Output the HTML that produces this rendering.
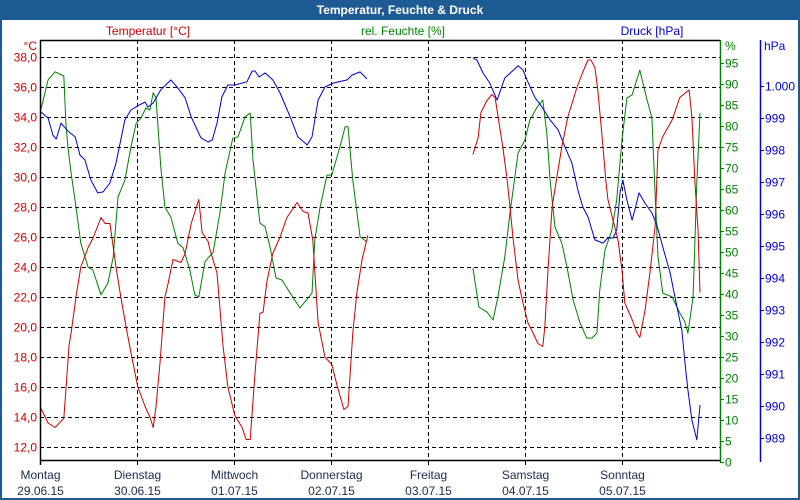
<!DOCTYPE html>
<html><head><meta charset="utf-8"><style>
html,body{margin:0;padding:0;background:#fff}
#wrap{position:relative;width:800px;height:500px;overflow:hidden}
svg{display:block;font-family:"Liberation Sans",sans-serif}
</style></head><body>
<div id="wrap">
<svg id="chart" width="800" height="500" viewBox="0 0 800 500">
  <rect x="0" y="0" width="800" height="500" fill="#fff"/>
  <rect x="0" y="0" width="800" height="20" fill="#1e5b93"/>
  <rect x="1" y="1" width="798" height="498" fill="none" stroke="#1e5b93" stroke-width="2"/>
  <text x="400" y="14" text-anchor="middle" fill="#fff" font-size="12" font-weight="bold">Temperatur, Feuchte &amp; Druck</text>
  <text x="148" y="35" text-anchor="middle" fill="#cc0000" font-size="12">Temperatur [°C]</text>
  <text x="403" y="35" text-anchor="middle" fill="#008000" font-size="12">rel. Feuchte [%]</text>
  <text x="652" y="35" text-anchor="middle" fill="#0000cc" font-size="12">Druck [hPa]</text>
  <text x="37" y="50" text-anchor="end" fill="#cc0000" font-size="12">°C</text>
  <text x="725" y="50" fill="#008000" font-size="12">%</text>
  <text x="764" y="50" fill="#0000cc" font-size="12">hPa</text>
  <g id="grid"></g>
  <g id="series"></g>
  <g id="axes"></g>
</svg>
</div>
<script>
const tempTicks = [38,36,34,32,30,28,26,24,22,20,18,16,14,12];
const humTicks = [95,90,85,80,75,70,65,60,55,50,45,40,35,30,25,20,15,10,5,0];
const pressTicks = [1000,999,998,997,996,995,994,993,992,991,990,989];
const pressTickLabels = ["1.000","999","998","997","996","995","994","993","992","991","990","989"];
const dayNames = ["Montag","Dienstag","Mittwoch","Donnerstag","Freitag","Samstag","Sonntag"];
const dayDates = ["29.06.15","30.06.15","01.07.15","02.07.15","03.07.15","04.07.15","05.07.15"];

const tempHours1 = [0.2,2.0,3.7,5.9,6.4,7.2,7.7,8.9,10.1,11.9,13.1,15.1,16.1,17.3,18.8,20.0,21.3,22.5,24.2,26.0,27.2,28.0,28.7,29.7,30.9,31.7,32.9,34.9,35.9,37.4,39.3,40.1,41.6,42.1,43.8,45.3,46.5,48.2,50.0,51.0,52.0,53.2,54.4,55.2,56.2,57.6,59.4,61.1,63.6,65.1,66.3,67.5,68.8,70.5,72.2,73.5,75.2,76.2,77.4,78.4,79.7,81.1];
const tempValues1 = [14.6,13.6,13.3,13.9,15.8,18.8,19.6,22.0,24.0,25.3,25.9,27.3,26.9,26.9,24.0,22.0,20.0,18.3,16.0,14.7,14.0,13.3,14.7,17.6,22.0,22.9,24.5,24.3,24.9,26.9,28.5,26.3,25.7,25.1,23.6,18.7,16.0,14.1,13.3,12.5,12.5,16.9,20.9,21.0,23.1,24.9,26.0,27.3,28.3,27.7,27.6,25.8,20.3,18.0,17.5,16.1,14.5,14.7,19.6,22.3,24.5,26.1];
const tempHours2 = [107.1,108.4,109.1,110.6,111.8,112.6,113.3,114.5,115.5,116.3,117.0,118.3,119.5,120.7,122.0,123.2,124.4,124.9,125.7,126.7,127.9,129.1,130.6,132.9,134.3,135.6,136.3,137.3,138.0,139.0,140.0,140.5,141.8,143.0,144.0,144.7,146.5,147.7,148.4,149.7,150.9,152.2,152.9,154.1,156.4,158.3,160.1,160.6,161.3,162.0,162.8,163.3];
const tempValues2 = [31.5,32.6,34.3,35.1,35.5,35.3,34.1,32.0,30.0,28.0,26.0,23.1,21.6,20.3,19.6,18.9,18.7,20.0,23.8,28.0,30.0,32.0,34.0,36.0,37.0,37.8,37.8,37.3,35.8,32.9,29.8,28.5,27.1,25.8,23.8,21.6,20.5,19.6,19.3,21.1,23.6,26.7,31.8,32.7,33.8,35.3,35.7,35.8,34.0,29.8,26.5,22.3];

const humHours1 = [0.2,2.0,3.7,5.9,6.4,6.9,7.7,8.9,10.1,11.9,13.1,15.1,16.8,18.1,19.3,21.0,22.5,23.8,25.0,26.2,27.2,28.0,28.7,29.9,30.9,32.4,34.1,35.4,37.1,38.3,39.3,40.8,41.6,42.8,44.5,45.8,47.7,49.0,50.7,52.0,52.7,54.4,55.7,56.9,58.4,59.9,61.9,64.3,67.3,68.0,69.3,71.0,72.2,74.2,75.5,76.2,77.4,79.2,80.9];
const humValues1 = [83.8,91.0,92.9,91.9,80.7,75.0,68.8,60.7,52.1,46.4,45.7,39.8,42.6,48.8,63.1,67.1,75.0,80.7,81.9,84.3,83.8,87.9,86.7,70.2,60.7,58.3,52.1,51.0,45.7,39.8,39.3,47.6,48.6,49.8,59.3,68.8,77.1,77.4,82.1,83.1,71.9,56.9,56.0,51.2,43.8,43.3,40.2,36.7,40.2,52.9,60.7,68.3,68.3,75.0,79.8,79.8,67.1,53.6,52.4];
const humHours2 = [107.1,108.6,110.6,112.1,113.3,115.0,116.3,118.3,120.0,121.2,123.0,124.4,125.4,126.2,127.4,129.1,130.4,131.9,133.6,135.3,136.6,137.8,138.5,139.8,141.5,142.7,144.0,145.2,146.5,148.4,150.2,151.4,152.2,152.9,154.1,156.4,158.3,159.6,160.3,161.6,162.5,163.3];
const humValues2 = [46.2,36.9,35.7,33.8,39.3,48.8,59.3,73.6,76.7,81.4,84.5,86.2,78.3,67.1,56.0,52.1,46.4,38.6,33.1,29.5,29.5,30.7,41.0,50.5,55.2,62.4,76.7,86.7,87.4,93.3,86.2,81.9,64.0,48.8,40.2,39.3,35.5,33.3,30.7,39.3,66.4,83.1];

const pressHours1 = [0.2,2.0,3.2,4.0,5.2,6.9,8.7,9.9,11.1,12.6,14.3,15.6,17.3,18.8,21.0,22.5,24.2,26.0,26.7,28.0,29.9,32.4,34.1,35.9,37.4,39.8,41.6,42.6,43.8,45.0,46.5,48.2,51.2,52.5,53.2,54.2,55.7,57.6,59.4,61.9,63.8,66.1,67.3,68.8,70.5,72.5,76.0,77.2,79.2,80.9];
const pressValues1 = [999.19,999.0,998.47,998.34,998.84,998.59,998.41,997.84,997.69,997.06,996.66,996.69,996.97,997.59,998.94,999.25,999.38,999.5,999.34,999.47,999.88,1000.19,999.94,999.63,999.03,998.38,998.25,998.31,998.84,999.66,1000.03,1000.03,1000.13,1000.47,1000.47,1000.28,1000.41,1000.19,999.78,999.03,998.41,998.16,998.41,999.56,999.97,1000.09,1000.19,1000.34,1000.44,1000.22];
const pressHours2 = [107.1,108.1,109.6,111.3,113.1,115.0,118.3,119.5,120.7,122.5,124.2,126.2,128.2,129.9,131.6,133.1,134.3,135.6,137.3,139.3,140.5,141.8,142.7,143.5,144.2,145.2,146.5,147.2,148.2,149.7,151.4,152.6,154.1,155.9,157.6,158.8,159.6,160.3,161.3,162.5,163.3];
const pressValues2 = [1000.88,1000.81,1000.41,1000.09,999.56,1000.25,1000.63,1000.5,1000.13,999.63,999.34,998.94,998.63,998.09,997.59,996.75,996.22,995.91,995.19,995.09,995.25,995.25,995.5,996.66,997.06,996.44,995.81,996.13,996.66,996.34,996.03,995.66,994.97,994.16,993.09,992.38,991.34,990.5,989.56,988.94,990.03];

const NS = "http://www.w3.org/2000/svg";
const X0 = 40, X1 = 720, Y0 = 40, Y1 = 460, DAYPX = 97;
function xScale(h){ return X0 + h * DAYPX / 24; }
function yTemp(t){ return 57 + (38 - t) * 15; }
function yHum(v){ return 462 - v * 4.2; }
function yPress(p){ return 86 + (1000 - p) * 32; }
function mk(tag, attrs, parent){
  const el = document.createElementNS(NS, tag);
  for (const k in attrs) el.setAttribute(k, attrs[k]);
  parent.appendChild(el);
  return el;
}
const grid = document.getElementById('grid');
const axes = document.getElementById('axes');
const series = document.getElementById('series');

tempTicks.forEach(t => {
  const y = Math.round(yTemp(t)) + 0.5;
  const l = mk('line', {x1:X0, x2:X1, y1:y, y2:y, stroke:'#000', 'stroke-dasharray':'4,3', 'stroke-width':1}, grid);
  
  
  const tx = mk('text', {x:37, y:y+4, 'text-anchor':'end', fill:'#cc0000', 'font-size':12}, axes);
  tx.textContent = t.toFixed(1).replace('.', ',');
  
  
});
for (let d = 0; d < 7; d++) {
  const x = Math.round(xScale(d * 24)) + 0.5;
  if (d > 0) {
    const l = mk('line', {x1:x, x2:x, y1:Y0, y2:Y1, stroke:'#000', 'stroke-dasharray':'4,3', 'stroke-width':1}, grid);
    
    
  }
  const tk = mk('line', {x1:x, x2:x, y1:Y1, y2:Y1+5, stroke:'#000'}, axes);
  
  
  const t1 = mk('text', {x:x, y:479, 'text-anchor':'middle', fill:'#1a2a4a', 'font-size':12}, axes);
  t1.textContent = dayNames[d];
  
  
  const t2 = mk('text', {x:x, y:495, 'text-anchor':'middle', fill:'#1a2a4a', 'font-size':12}, axes);
  t2.textContent = dayDates[d];
  
  
}
humTicks.forEach(v => {
  const y = Math.round(yHum(v)) + 0.5;
  const tk = mk('line', {x1:X1, x2:X1+4, y1:y, y2:y, stroke:'#008000'}, axes);
  
  
  const tx = mk('text', {x:X1+5, y:y+4, fill:'#008000', 'font-size':12}, axes);
  tx.textContent = String(v);
  
  
});
pressTicks.forEach((p, i) => {
  const y = Math.round(yPress(p)) + 0.5;
  const tk = mk('line', {x1:760, x2:764, y1:y, y2:y, stroke:'#0000cc'}, axes);
  
  
  const tx = mk('text', {x:765, y:y+4, fill:'#0000cc', 'font-size':12}, axes);
  tx.textContent = pressTickLabels[i];
  
  
});
let a;
a = mk('line', {x1:X0+0.5, x2:X0+0.5, y1:Y0, y2:Y1+5, stroke:'#000', 'stroke-width':1.5}, axes);
 
a = mk('line', {x1:X0, x2:X1, y1:Y0+0.5, y2:Y0+0.5, stroke:'#000', 'stroke-width':1.5}, axes);
 
a = mk('line', {x1:X0, x2:X1, y1:Y1+0.5, y2:Y1+0.5, stroke:'#000', 'stroke-width':1.5}, axes);
 
a = mk('line', {x1:X1+0.5, x2:X1+0.5, y1:Y0, y2:Y1+2, stroke:'#008000', 'stroke-width':1.5}, axes);
 
a = mk('line', {x1:760.5, x2:760.5, y1:Y0, y2:Y1+2, stroke:'#0000cc', 'stroke-width':1.5}, axes);
 

function drawLine(hours, vals, yf, color, name){
  const pts = hours.map((h, i) => xScale(h).toFixed(1) + ',' + yf(vals[i]).toFixed(1)).join(' ');
  const pl = mk('polyline', {points:pts, fill:'none', stroke:color, 'stroke-width':1, 'stroke-linejoin':'round'}, series);
  
  
}
drawLine(humHours1, humValues1, yHum, '#008000', 'humidity-line-1');
drawLine(humHours2, humValues2, yHum, '#008000', 'humidity-line-2');
drawLine(pressHours1, pressValues1, yPress, '#0000cc', 'pressure-line-1');
drawLine(pressHours2, pressValues2, yPress, '#0000cc', 'pressure-line-2');
drawLine(tempHours1, tempValues1, yTemp, '#cc0000', 'temperature-line-1');
drawLine(tempHours2, tempValues2, yTemp, '#cc0000', 'temperature-line-2');
</script>
</body></html>
